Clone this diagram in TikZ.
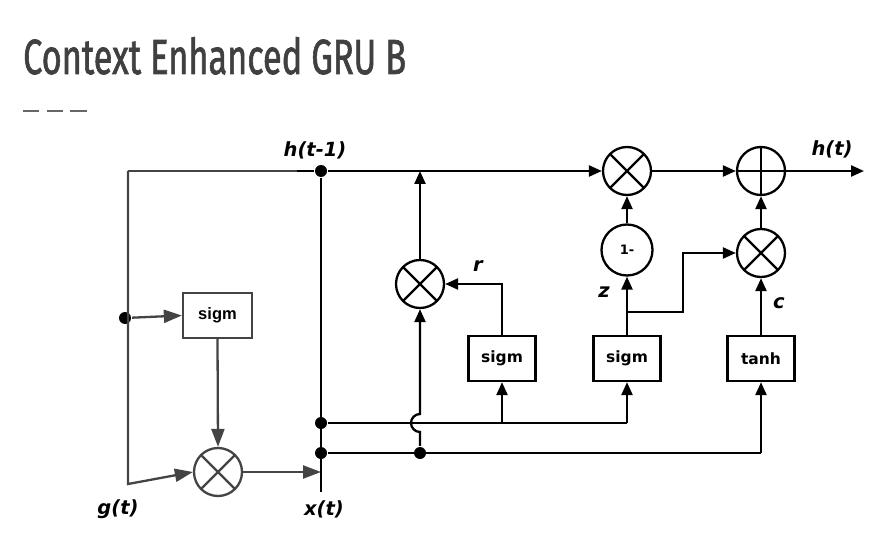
\documentclass[tikz,border=0pt]{standalone}
\usepackage{fontspec}
\usetikzlibrary{arrows.meta}
\newfontfamily\titlef[FakeBold=1.6]{Fira Sans}
\newfontfamily\dvs{DejaVu Sans}
\newfontfamily\libs{Liberation Sans}
\definecolor{gr}{HTML}{444444}
\definecolor{tc}{HTML}{404040}
\definecolor{dashcol}{HTML}{666666}
\begin{document}
\begin{tikzpicture}[x=1pt,y=-1pt,line width=2.3pt,
  arr/.style={-{Triangle[length=13pt,width=11pt]}},
  garr/.style={draw=gr,-{Triangle[length=18pt,width=13pt]}},
  mul/.style={circle,draw,minimum size=48pt,inner sep=0pt,
    path picture={\draw (path picture bounding box.north west) -- (path picture bounding box.south east)
      (path picture bounding box.north east) -- (path picture bounding box.south west);}},
  plus/.style={circle,draw,minimum size=48pt,inner sep=0pt,
    path picture={\draw (path picture bounding box.north) -- (path picture bounding box.south)
      (path picture bounding box.west) -- (path picture bounding box.east);}},
  gatebox/.style={draw,rectangle,minimum width=67pt,minimum height=45pt,inner sep=0pt,
    font=\dvs\bfseries\fontsize{15.5}{17}\selectfont},
  dot/.style={circle,fill=black,inner sep=0pt,minimum size=12pt},
  lab/.style={inner sep=0pt,font=\dvs\bfseries\itshape\fontsize{19.5}{22}\selectfont}
]
\fill[white] (0,0) rectangle (890,537);
\useasboundingbox (0,0) rectangle (890,537);

% title
\node[anchor=base west,inner sep=0pt,text=tc] (title) at (22,74)
  {\resizebox{383pt}{37pt}{\titlef Context Enhanced GRU B}};
\coordinate (da1) at (23,111); \coordinate (da2) at (39,111);
\coordinate (db1) at (47,111); \coordinate (db2) at (63,111);
\coordinate (dc1) at (70,111); \coordinate (dc2) at (87,111);
\draw[dashcol,line width=2.6pt] (da1) -- (da2) (db1) -- (db2) (dc1) -- (dc2);

% left (gray) part
\node[draw=gr,rectangle,minimum width=69pt,minimum height=45pt,inner sep=0pt,
  font=\libs\bfseries\fontsize{16.5}{18}\selectfont] (sg) at (217.5,315.5) {sigm};
\node[mul,draw=gr] (m0) at (218,472) {};
\node[dot] (dl) at (125,318) {};
\coordinate (c0) at (128,171);
\coordinate (c0b) at (297,171);
\coordinate (c1) at (128,484);
\coordinate (xt) at (321,472);
\draw[garr] (c0) -- (c1) -- (m0.west);
\draw[gr] (c0) -- (c0b);
\draw[garr] (dl) -- (sg.west);
\draw[garr] (sg.south) -- (m0.north);
\draw[garr] (m0.east) -- (xt);

% main part
\node[dot] (d0) at (321,171) {};
\node[dot] (d1) at (321,423) {};
\node[dot] (d2) at (321,453) {};
\node[dot] (d3) at (420,453) {};
\coordinate (xb) at (321,492);
\node[mul] (mr) at (420,284) {};
\node[gatebox] (sr) at (502,358.5) {sigm};
\node[gatebox] (sz) at (627,358.5) {sigm};
\node[gatebox] (st) at (761,358.5) {tanh};
\node[mul] (mt) at (627,171) {};
\node[circle,draw,minimum size=51pt,inner sep=0pt,font=\dvs\bfseries\fontsize{13}{14}\selectfont] (om) at (627,250) {1-};
\node[plus] (pl) at (761,171) {};
\node[mul] (mc) at (761,253) {};
\coordinate (out) at (864,171);

\draw (c0b) -- (d0);
\draw (d0) -- (xb);
\draw[arr] (d0) -- (mt.west);
\draw[arr] (mt.east) -- (pl.west);
\draw[arr] (pl.east) -- (out);
\coordinate (rj) at (420,171);
\draw[arr] (mr.north) -- (rj);
\coordinate (hp) at (420,432);
\draw[arr] (d3) -- (hp) arc[start angle=90,end angle=270,radius=9] -- (mr.south);
\coordinate (rk) at (502,284);
\draw[arr] (sr.north) -- (rk) -- (mr.east);
\draw[arr] (sz.north) -- (om.south);
\coordinate (zb) at (627,312);
\coordinate (zk) at (683,312);
\draw[arr] (zb) -- (zk) |- (mc.west);
\draw[arr] (om.north) -- (mt.south);
\draw[arr] (st.north) -- (mc.south);
\draw[arr] (mc.north) -- (pl.south);
\coordinate (b1) at (627,423);
\coordinate (b1r) at (502,423);
\draw (d1) -- (b1);
\draw[arr] (b1r) -- (sr.south);
\draw[arr] (b1) -- (sz.south);
\coordinate (b2) at (761,453);
\draw (d2) -- (b2);
\draw[arr] (b2) -- (st.south);

% labels
\node[lab] (lh1) at (315,150) {h(t-1)};
\node[lab] (lht) at (832,149) {h(t)};
\node[lab] (lg) at (118,509) {g(t)};
\node[lab] (lx) at (324,509) {x(t)};
\node[lab] (lr) at (478,266) {r};
\node[lab] (lz) at (604,292) {z};
\node[lab] (lc) at (779,303) {c};
\end{tikzpicture}
\end{document}
